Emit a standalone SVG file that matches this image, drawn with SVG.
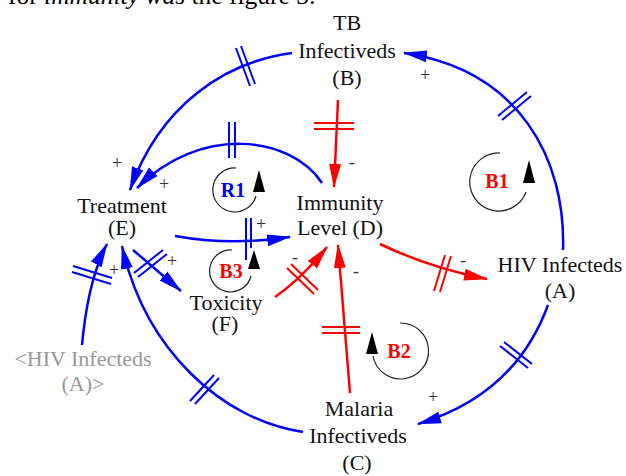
<svg xmlns="http://www.w3.org/2000/svg" width="626" height="476" viewBox="0 0 626 476">
<style>
.lbl{font-family:"Liberation Serif","Times New Roman",serif;font-size:22px;fill:#111;text-anchor:middle}
.ghost{fill:#999}
.sg{font-family:"Liberation Serif","Times New Roman",serif;font-size:18px;fill:#333;text-anchor:middle}
.loop{font-family:"Liberation Serif","Times New Roman",serif;font-size:20px;font-weight:bold;text-anchor:middle}
.b{fill:none;stroke:#0000ff;stroke-width:2.5}
.r{fill:none;stroke:#ff0000;stroke-width:2.5}
.hb{stroke:#0000ff;stroke-width:2}
.hr{stroke:#ff0000;stroke-width:2}
.lc{fill:none;stroke:#222;stroke-width:1.2}
</style>
<defs>
<marker id="ab" markerUnits="userSpaceOnUse" markerWidth="24" markerHeight="14" viewBox="0 0 24 14" refX="23" refY="7" orient="auto"><path d="M0,1 L24,7 L0,13 z" fill="#0000ff"/></marker>
<marker id="ar" markerUnits="userSpaceOnUse" markerWidth="24" markerHeight="14" viewBox="0 0 24 14" refX="23" refY="7" orient="auto"><path d="M0,1 L24,7 L0,13 z" fill="#ff0000"/></marker>
</defs>

<text x="8" y="4" font-family="Liberation Serif, Times New Roman, serif" font-size="25.5" fill="#000">for <tspan font-style="italic">immunity was</tspan> the figure 3.</text>

<g id="connectors">
<path class="b" d="M292,53 C225,62 160,105 130,190" marker-end="url(#ab)"/>
<path class="b" d="M563,250 C566,160 520,70 404,53" marker-end="url(#ab)"/>
<path class="b" d="M548,305 Q515,395 418,424" marker-end="url(#ab)"/>
<path class="b" d="M303,432 C222,420 145,350 122,246" marker-end="url(#ab)"/>
<path class="b" d="M322,183 C290,135 200,125 137,188" marker-end="url(#ab)"/>
<path class="b" d="M175,236 Q230,246 290,237" marker-end="url(#ab)"/>
<path class="b" d="M133,250 L181,291" marker-end="url(#ab)"/>
<path class="b" d="M82,345 Q88,280 107,244" marker-end="url(#ab)"/>
<path class="r" d="M338,100 L334,187" marker-end="url(#ar)"/>
<path class="r" d="M275,297 Q300,280 327,247" marker-end="url(#ar)"/>
<path class="r" d="M350,393 L338,245" marker-end="url(#ar)"/>
<path class="r" d="M380,244 Q430,268 487,279" marker-end="url(#ar)"/>
<g class="hb">
<line x1="236" y1="48" x2="250" y2="86"/><line x1="241" y1="46" x2="255" y2="84"/>
<line x1="498" y1="116" x2="527" y2="92"/><line x1="502" y1="120" x2="531" y2="96"/>
<line x1="504" y1="342" x2="532" y2="364"/><line x1="500" y1="346" x2="528" y2="368"/>
<line x1="190" y1="401" x2="214" y2="375"/><line x1="195" y1="404" x2="219" y2="378"/>
<line x1="229" y1="122" x2="229" y2="158"/><line x1="235" y1="122" x2="235" y2="158"/>
<line x1="246" y1="218" x2="246" y2="260"/><line x1="251" y1="218" x2="251" y2="248"/>
<line x1="134" y1="273" x2="163" y2="250"/><line x1="138" y1="277" x2="167" y2="254"/>
<line x1="73" y1="266" x2="112" y2="278"/><line x1="72" y1="272" x2="111" y2="284"/>
</g>
<g class="hr">
<line x1="314" y1="123" x2="354" y2="123"/><line x1="314" y1="129" x2="354" y2="129"/>
<line x1="287" y1="268" x2="314" y2="294"/><line x1="291" y1="264" x2="318" y2="290"/>
<line x1="322" y1="327" x2="360" y2="327"/><line x1="322" y1="333" x2="360" y2="333"/>
<line x1="445" y1="255" x2="434" y2="291"/><line x1="451" y1="256" x2="440" y2="292"/>
</g>
</g>

<g id="signs">
<text class="sg" x="117" y="169">+</text>
<text class="sg" x="164" y="190">+</text>
<text class="sg" x="425" y="81">+</text>
<text class="sg" x="261" y="230">+</text>
<text class="sg" x="172" y="267">+</text>
<text class="sg" x="114" y="276">+</text>
<text class="sg" x="433" y="403">+</text>
<text class="sg" x="352" y="168">-</text>
<text class="sg" x="295" y="263">-</text>
<text class="sg" x="356" y="277">-</text>
<text class="sg" x="463" y="266">-</text>
</g>

<g id="loop-R1">
<path class="lc" d="M236,168 A22,22 0 1 0 256,196"/>
<polygon points="259,170 253,192 265,192" fill="#000"/>
<text class="loop" x="233" y="197" fill="#0000ff">R1</text>
</g>
<g id="loop-B1">
<path class="lc" d="M500,153 A29,29 0 1 0 526,192"/>
<polygon points="529,160 523,183 535,183" fill="#000"/>
<text class="loop" x="497" y="188" fill="#ff0000">B1</text>
</g>
<g id="loop-B2">
<path class="lc" d="M400,323 A28,28 0 1 1 373,356"/>
<polygon points="372,332 366,354 378,354" fill="#000"/>
<text class="loop" x="399" y="358" fill="#ff0000">B2</text>
</g>
<g id="loop-B3">
<path class="lc" d="M232,250 A21,21 0 1 0 251,276"/>
<polygon points="254,250 248,269 260,269" fill="#000"/>
<text class="loop" x="231" y="278" fill="#ff0000">B3</text>
</g>

<g id="node-B"><text class="lbl" x="347" y="30">TB</text><text class="lbl" x="347" y="58">Infectiveds</text><text class="lbl" x="347" y="85">(B)</text></g>
<g id="node-E"><text class="lbl" x="122" y="213">Treatment</text><text class="lbl" x="122" y="235">(E)</text></g>
<g id="node-D"><text class="lbl" x="340" y="210">Immunity</text><text class="lbl" x="340" y="235">Level (D)</text></g>
<g id="node-A"><text class="lbl" x="560" y="272">HIV Infecteds</text><text class="lbl" x="560" y="298">(A)</text></g>
<g id="node-F"><text class="lbl" x="226" y="310">Toxicity</text><text class="lbl" x="225" y="331">(F)</text></g>
<g id="node-A-shadow"><text class="lbl ghost" x="83" y="366">&lt;HIV Infecteds</text><text class="lbl ghost" x="83" y="391">(A)&gt;</text></g>
<g id="node-C"><text class="lbl" x="359" y="416">Malaria</text><text class="lbl" x="358" y="443">Infectiveds</text><text class="lbl" x="357" y="470">(C)</text></g>
</svg>
